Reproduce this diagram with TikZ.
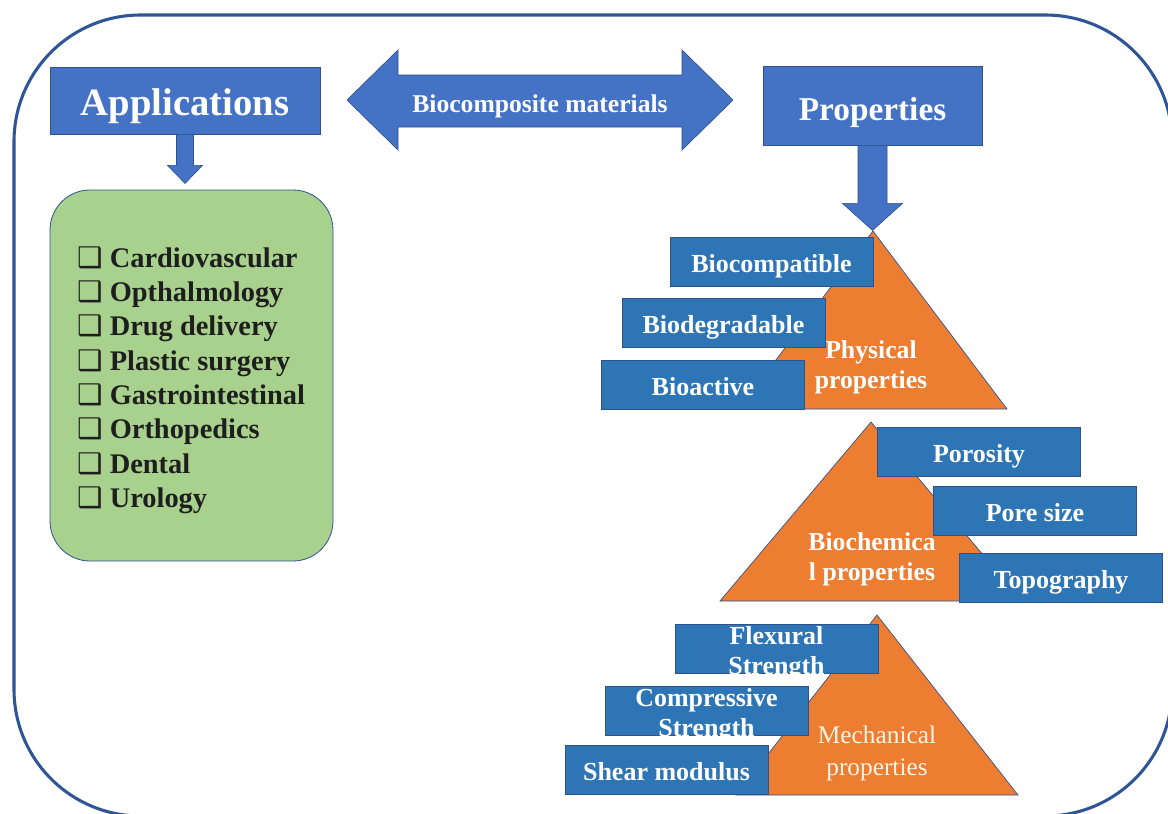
\documentclass[tikz,border=0pt]{standalone}
\usepackage{fontspec}
\setmainfont{Liberation Serif}
\newfontfamily\dejavu{DejaVu Sans}
\usetikzlibrary{calc}
\definecolor{outerblue}{HTML}{2F5597}
\definecolor{hdrblue}{HTML}{4472C4}
\definecolor{itemblue}{HTML}{2E75B6}
\definecolor{edgeblue}{HTML}{2F528F}
\definecolor{leaf}{HTML}{A9D18E}
\definecolor{orng}{HTML}{ED7D31}
\definecolor{cream}{HTML}{FFF4E6}
\definecolor{listink}{HTML}{1E1E1E}
\newcommand{\cbox}{{\dejavu\mdseries ❑}}
\begin{document}
\begin{tikzpicture}[x=0.75pt,y=-0.75pt,
  hdr/.style={draw=edgeblue, line width=0.6pt, fill=hdrblue, text=white,
    font=\bfseries\fontsize{29}{34}\selectfont, inner sep=0pt,
    text height=22.6pt, text depth=0pt},
  item/.style={draw=edgeblue, line width=0.5pt, fill=itemblue, text=white,
    font=\bfseries\fontsize{19.5}{22.5}\selectfont, inner sep=0pt,
    minimum width=152.25pt, minimum height=36.75pt,
    text height=16pt, text depth=0pt},
  itemline/.style={text=white, font=\bfseries\fontsize{19.5}{22.5}\selectfont,
    inner sep=0pt, anchor=base},
  blockarrow/.style={draw=edgeblue, line width=0.5pt, fill=hdrblue},
  tri/.style={draw=edgeblue, line width=0.5pt, fill=orng},
  trilabel/.style={text=white, font=\bfseries\fontsize{19.3}{22.5}\selectfont,
    inner sep=0pt, anchor=base},
  trilabelreg/.style={text=cream, font=\fontsize{19}{22.5}\selectfont,
    inner sep=0pt, anchor=base}]
\useasboundingbox (0,0) rectangle (1168,814);
\fill[white] (0,0) rectangle (1168,814);
% outer frame
\draw[outerblue, line width=2.3pt, rounded corners=95pt] (14,15) rectangle (1172,816);

% headers
\node[hdr, minimum width=202.5pt, minimum height=50.25pt] (app) at (185,100.5) {Applications};
\node[hdr, minimum width=164.25pt, minimum height=59.25pt, font=\bfseries\fontsize{25}{30}\selectfont] (prop) at (872.5,105.5) {Properties};

% double arrow
\draw[blockarrow] (347,100) -- (398,50) -- (398,75) -- (682,75) -- (682,50) -- (733,100)
  -- (682,150) -- (682,127) -- (398,127) -- (398,150) -- cycle;
\node[text=white, font=\bfseries\fontsize{19.2}{22}\selectfont, inner sep=0pt,
  text height=17.5pt, text depth=0pt] (bio) at (540,101) {Biocomposite materials};

% down arrows
\draw[blockarrow, shift={(app.south)}] (-8.5,0) -- (8.5,0) -- (8.5,31) -- (17.5,31) -- (0,49)
  -- (-17.5,31) -- (-8.5,31) -- cycle;
\draw[blockarrow, shift={(prop.south)}] (-14.5,0) -- (14.5,0) -- (14.5,58) -- (30,58) -- (0,85)
  -- (-30,58) -- (-14.5,58) -- cycle;

% applications list
\node[draw=edgeblue, line width=0.6pt, fill=leaf, rounded corners=30pt,
  minimum width=212.25pt, minimum height=278.25pt] (green) at (191.5,375.5) {};
\node[anchor=west, align=left, text=listink, inner sep=0pt,
  font=\bfseries\fontsize{21.3}{25.75}\selectfont] (list) at (77,380)
  {\cbox\ Cardiovascular\\ \cbox\ Opthalmology\\ \cbox\ Drug delivery\\ \cbox\ Plastic surgery\\
   \cbox\ Gastrointestinal\\ \cbox\ Orthopedics\\ \cbox\ Dental\\ \cbox\ Urology};

% triangles
\draw[tri] (873,231) -- (1007,409) -- (739,409) -- cycle;
\draw[tri] (871,422) -- (1022,601) -- (720,601) -- cycle;
\draw[tri] (877,615) -- (1018,795) -- (736,795) -- cycle;
\node[trilabel] (phys1) at (871,358) {Physical};
\node[trilabel] (phys2) at (871,388) {properties};
\node[trilabel] (bch1) at (872,550) {Biochemica};
\node[trilabel] (bch2) at (872,580) {l properties};
\node[trilabelreg] (mech1) at (877,743) {Mechanical};
\node[trilabelreg] (mech2) at (877,775) {properties};

% physical items
\node[item] (biocomp) at (771.5,262) {Biocompatible};
\node[item] (biodeg) at (723.5,322.5) {Biodegradable};
\node[item] (bioact) at (703,384.5) {Bioactive};
% biochemical items
\node[item] (poros) at (979,451.5) {Porosity};
\node[item] (pore) at (1035,510.5) {Pore size};
\node[item] (topo) at (1061,577.5) {Topography};
% mechanical items
\node[item] (flex) at (776.5,648.5) {};
\begin{scope}
  \clip (flex.south west) rectangle (flex.north east);
  \node[itemline] (flex1) at (776.5,644) {Flexural};
  \node[itemline] (flex2) at (776.5,674) {Strength};
\end{scope}
\node[item] (comp) at (706.5,711) {};
\begin{scope}
  \clip (comp.south west) rectangle (comp.north east);
  \node[itemline] (comp1) at (706.5,706) {Compressive};
  \node[itemline] (comp2) at (706.5,736) {Strength};
\end{scope}
\node[item] (shear) at (666.5,770) {Shear modulus};
\end{tikzpicture}
\end{document}
